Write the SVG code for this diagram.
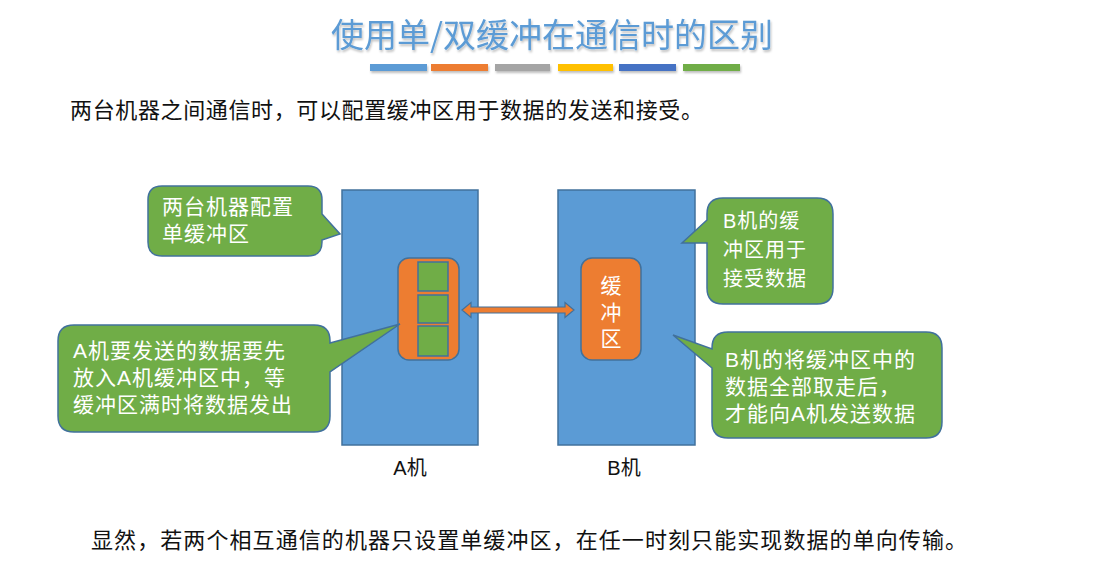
<svg xmlns="http://www.w3.org/2000/svg" width="1110" height="577" viewBox="0 0 1110 577">
  <defs>
    <filter id="sh" x="-10%" y="-30%" width="120%" height="180%">
      <feDropShadow dx="1" dy="2" stdDeviation="1.2" flood-color="#000" flood-opacity="0.25"/>
    </filter>
  </defs>
  <style>
    .cjk { font-family: "Noto Sans CJK SC", "Liberation Sans", sans-serif; }
    .lat { font-family: "Liberation Sans", "Noto Sans CJK SC", sans-serif; }
    .title { font-size: 33px; fill: #5B9BD5; }
    .body { font-size: 22px; fill: #111; }
    .machine { fill: #5B9BD5; stroke: #41719C; stroke-width: 1.5; }
    .buffer { fill: #ED7D31; stroke: #41719C; stroke-width: 1.5; }
    .cell { fill: #70AD47; stroke: #41719C; stroke-width: 1.5; }
    .bubble { fill: #70AD47; stroke: #41719C; stroke-width: 1.5; }
    .wt { fill: #fff; font-size: 21px; letter-spacing: 1px; }
    .lbl { fill: #111; font-size: 20px; }
    .arrow { fill: #ED7D31; stroke: #41719C; stroke-width: 1.2; }
  </style>

  <g id="title">
    <text class="cjk title" x="552" y="47" text-anchor="middle" filter="url(#sh)">使用单/双缓冲在通信时的区别</text>
    <g filter="url(#sh)">
      <rect x="370" y="64" width="57" height="7" fill="#5B9BD5"/>
      <rect x="431" y="64" width="57" height="7" fill="#ED7D31"/>
      <rect x="495" y="64" width="55" height="7" fill="#A5A5A5"/>
      <rect x="558" y="64" width="55" height="7" fill="#FFC000"/>
      <rect x="619" y="64" width="57" height="7" fill="#4472C4"/>
      <rect x="683" y="64" width="57" height="7" fill="#70AD47"/>
    </g>
  </g>

  <g id="intro">
    <text class="cjk body" x="70" y="118" textLength="633" lengthAdjust="spacing">两台机器之间通信时，可以配置缓冲区用于数据的发送和接受。</text>
  </g>

  <g id="machineA">
    <rect class="machine" x="342" y="190" width="136" height="255"/>
    <text class="lat lbl" x="410" y="475" text-anchor="middle">A机</text>
  </g>
  <g id="machineB">
    <rect class="machine" x="558" y="190" width="137" height="255"/>
    <text class="lat lbl" x="624" y="475" text-anchor="middle">B机</text>
  </g>

  <g id="bufferA">
    <rect class="buffer" x="398" y="258" width="61" height="102" rx="11"/>
    <rect class="cell" x="418" y="262" width="30" height="29"/>
    <rect class="cell" x="418" y="295" width="30" height="28"/>
    <rect class="cell" x="418" y="326" width="30" height="30"/>
  </g>

  <g id="bufferB">
    <rect class="buffer" x="581" y="258" width="60" height="102" rx="11"/>
    <text class="lat wt" x="611" y="293" text-anchor="middle" style="letter-spacing:0">缓</text>
    <text class="lat wt" x="611" y="320" text-anchor="middle" style="letter-spacing:0">冲</text>
    <text class="lat wt" x="611" y="346" text-anchor="middle" style="letter-spacing:0">区</text>
  </g>

  <g id="connectors">
    <path class="arrow" d="M462,310 L471,302.5 V307 H565 V302.5 L574,310 L565,317.5 V313 H471 V317.5 Z"/>
  </g>

  <g id="callout1">
    <path class="bubble" d="M162,186 H308 Q322,186 322,200 V214 L340,234 L322,240 V242 Q322,256 308,256 H162 Q148,256 148,242 V200 Q148,186 162,186 Z"/>
    <text class="lat wt" x="162" y="214">两台机器配置</text>
    <text class="lat wt" x="162" y="241">单缓冲区</text>
  </g>

  <g id="callout2">
    <path class="bubble" d="M74,325 H314 Q330,325 330,341 V343 L400,324 L330,372 V416 Q330,432 314,432 H74 Q58,432 58,416 V341 Q58,325 74,325 Z"/>
    <text class="lat wt" x="73" y="358">A机要发送的数据要先</text>
    <text class="lat wt" x="73" y="385">放入A机缓冲区中，等</text>
    <text class="lat wt" x="73" y="412">缓冲区满时将数据发出</text>
  </g>

  <g id="callout3">
    <path class="bubble" d="M723,198 H817 Q833,198 833,214 V288 Q833,304 817,304 H723 Q707,304 707,288 V243 L682,243 L707,220 V214 Q707,198 723,198 Z"/>
    <text class="lat wt" x="723" y="228" style="font-size:20px">B机的缓</text>
    <text class="lat wt" x="723" y="257" style="font-size:20px">冲区用于</text>
    <text class="lat wt" x="723" y="286" style="font-size:20px">接受数据</text>
  </g>

  <g id="callout4">
    <path class="bubble" d="M728,332 H926 Q942,332 942,348 V422 Q942,438 926,438 H728 Q712,438 712,422 V368 L673,335 L712,349 V348 Q712,332 728,332 Z"/>
    <text class="lat wt" x="725" y="367">B机的将缓冲区中的</text>
    <text class="lat wt" x="725" y="394">数据全部取走后，</text>
    <text class="lat wt" x="725" y="421">才能向A机发送数据</text>
  </g>

  <g id="conclusion">
    <text class="cjk body" x="91" y="548" textLength="876" lengthAdjust="spacing">显然，若两个相互通信的机器只设置单缓冲区，在任一时刻只能实现数据的单向传输。</text>
  </g>
</svg>
